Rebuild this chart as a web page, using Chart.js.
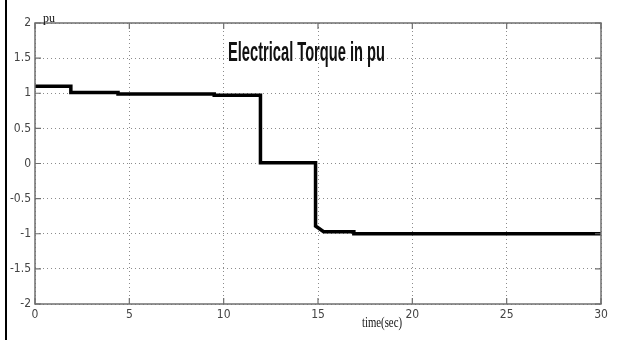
<!DOCTYPE html>
<html>
<head>
<meta charset="utf-8">
<script src="https://cdn.jsdelivr.net/npm/chart.js@4/dist/chart.umd.min.js"></script>
<style>
  html, body { margin: 0; padding: 0; background: #fff; }
  #wrap { width: 621px; height: 340px; position: relative; }
</style>
</head>
<body>
<div id="wrap"><canvas id="torqueChart" width="621" height="340"></canvas></div>
<script>
// step trace of electrical torque
const timeSec = [0, 1.9, 1.9, 4.4, 4.4, 9.5, 9.5, 11.95, 11.95, 14.87, 14.87, 15.3, 16.9, 16.9, 30];
const torquePu = [1.1, 1.1, 1.01, 1.01, 0.99, 0.99, 0.97, 0.97, 0.01, 0.01, -0.89, -0.97, -0.97, -1.0, -1.0];

const xTicks = [0, 5, 10, 15, 20, 25, 30];
const yTicks = [-2, -1.5, -1, -0.5, 0, 0.5, 1, 1.5, 2];

const titleText = 'Electrical Torque in pu';
const yUnitText = 'pu';
const xLabelText = 'time(sec)';

const AXIS_GRAY = '#6f6f6f';
const TICK_FONT = '"Liberation Sans Narrow", "DejaVu Sans Condensed", "Liberation Sans", sans-serif';

// draw squeezed text (the original picture is horizontally compressed)
function narrowText(ctx, text, x, y, font, targetW, align) {
    ctx.save();
    ctx.font = font;
    const w = ctx.measureText(text).width;
    const sx = targetW / w;
    ctx.translate(x, y);
    ctx.scale(sx, 1);
    ctx.textAlign = align || 'left';
    ctx.textBaseline = 'alphabetic';
    ctx.fillStyle = '#111';
    ctx.fillText(text, 0, 0);
    ctx.restore();
}

// MATLAB style box, inward ticks, and labels
const decorPlugin = {
    id: 'decor',
    beforeDraw(chart) {
        const ctx = chart.ctx;
        ctx.save();
        ctx.fillStyle = '#fff';
        ctx.fillRect(0, 0, chart.width, chart.height);
        ctx.restore();
    },
    afterDatasetsDraw(chart) {
        const ctx = chart.ctx;
        const a = chart.chartArea;
        const xs = chart.scales.x;
        const ys = chart.scales.y;

        ctx.save();
        // axes box
        ctx.strokeStyle = AXIS_GRAY;
        ctx.lineWidth = 1.5;
        ctx.strokeRect(a.left, a.top, a.right - a.left, a.bottom - a.top);

        // inward ticks
        ctx.lineWidth = 1.2;
        ctx.beginPath();
        xTicks.forEach(v => {
            const px = xs.getPixelForValue(v);
            ctx.moveTo(px, a.bottom); ctx.lineTo(px, a.bottom - 6);
            ctx.moveTo(px, a.top); ctx.lineTo(px, a.top + 6);
        });
        yTicks.forEach(v => {
            const py = ys.getPixelForValue(v);
            ctx.moveTo(a.left, py); ctx.lineTo(a.left + 6, py);
            ctx.moveTo(a.right, py); ctx.lineTo(a.right - 6, py);
        });
        ctx.stroke();

        // left frame line of the figure
        ctx.fillStyle = '#000';
        ctx.fillRect(5, 0, 2, chart.height);
        ctx.restore();

        // title inside the plot
        narrowText(ctx, titleText, 228, 61, 'bold 27px "Liberation Sans", Arial, sans-serif', 157, 'left');
        // unit and axis label
        narrowText(ctx, yUnitText, 43, 22, '12px "Liberation Serif", "Times New Roman", serif', 12, 'left');
        narrowText(ctx, xLabelText, 362, 327, '14px "Liberation Serif", "Times New Roman", serif', 40, 'left');
    }
};

const ctx = document.getElementById('torqueChart').getContext('2d');
new Chart(ctx, {
    type: 'line',
    data: {
        datasets: [{
            data: timeSec.map((t, i) => ({ x: t, y: torquePu[i] })),
            borderColor: '#000',
            borderWidth: 3.5,
            pointRadius: 0,
            fill: false,
            tension: 0
        }]
    },
    options: {
        responsive: false,
        animation: false,
        layout: { padding: { left: 0, top: 23, right: 20, bottom: 0 } },
        plugins: {
            legend: { display: false },
            tooltip: { enabled: false }
        },
        scales: {
            x: {
                type: 'linear',
                min: 0,
                max: 30,
                afterFit: s => { s.height = 36; },
                afterBuildTicks: s => { s.ticks = xTicks.map(v => ({ value: v })); },
                border: { display: false, dash: [1, 3] },
                grid: {
                    color: '#8c8c8c',
                    lineWidth: 1,
                    drawTicks: false
                },
                ticks: {
                    padding: 4,
                    maxRotation: 0,
                    color: '#444',
                    callback: v => String(v),
                    font: { family: TICK_FONT, size: 12 }
                }
            },
            y: {
                min: -2,
                max: 2,
                afterFit: s => { s.width = 35; },
                afterBuildTicks: s => { s.ticks = yTicks.map(v => ({ value: v })); },
                border: { display: false, dash: [1, 3] },
                grid: {
                    color: '#8c8c8c',
                    lineWidth: 1,
                    drawTicks: false
                },
                ticks: {
                    padding: 4,
                    color: '#444',
                    callback: v => String(v),
                    font: { family: TICK_FONT, size: 12 }
                }
            }
        }
    },
    plugins: [decorPlugin]
});
</script>
</body>
</html>
